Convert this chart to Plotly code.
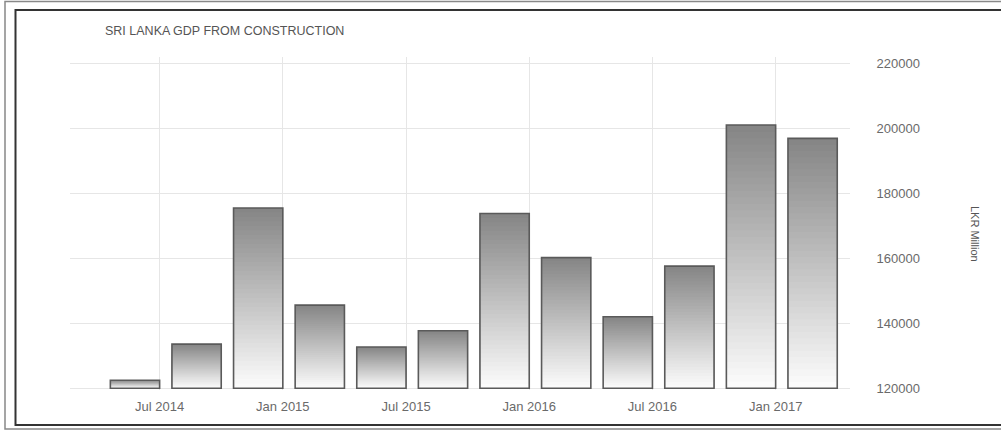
import plotly.graph_objects as go

# ---- data ----
quarters = ["2014 Q2", "2014 Q3", "2014 Q4", "2015 Q1", "2015 Q2", "2015 Q3",
            "2015 Q4", "2016 Q1", "2016 Q2", "2016 Q3", "2016 Q4", "2017 Q1"]
gdp_construction = [122500, 133600, 175500, 145600, 132700, 137700,
                    173800, 160200, 142000, 157600, 201000, 196900]
tick_labels = ["Jul 2014", "Jan 2015", "Jul 2015", "Jan 2016", "Jul 2016", "Jan 2017"]
y_ticks = [120000, 140000, 160000, 180000, 200000, 220000]
title_text = "SRI LANKA GDP FROM CONSTRUCTION"
unit_text = "LKR Million"

BASE = 120000
N_SEG = 40
positions = list(range(len(quarters)))
tick_positions = [positions[i] + 0.4 for i in range(0, len(quarters), 2)]

W, H = 1001, 432
L, R, T, B = 70, 151, 57, 42
plot_w = W - L - R
plot_h = H - T - B


def px(x):
    return (x - L) / plot_w


def py(y):
    return (H - B - y) / plot_h


fig = go.Figure()

top_c = (132, 132, 132)
bot_c = (253, 253, 253)
# overlapping layers: each layer starts at the base and reaches a fraction of the bar,
# so the visible band of each layer forms a smooth vertical gradient without gaps
for k in range(N_SEG):
    frac = 1 - k / N_SEG
    t = frac - 0.5 / N_SEG
    c = tuple(int(round(bot_c[i] + (top_c[i] - bot_c[i]) * t)) for i in range(3))
    fig.add_trace(go.Bar(
        x=positions, y=[(v - BASE) * frac for v in gdp_construction], base=BASE, width=0.8,
        marker=dict(color="rgb(%d,%d,%d)" % c, line=dict(width=0)),
        showlegend=False, hoverinfo="skip"))

fig.add_trace(go.Bar(
    x=positions, y=[v - BASE for v in gdp_construction], base=BASE, width=0.8,
    marker=dict(color="rgba(0,0,0,0)", line=dict(color="#5a5a5a", width=1.6)),
    customdata=gdp_construction, hovertemplate="%{customdata}<extra></extra>",
    showlegend=False))

fig.update_layout(
    width=W, height=H,
    margin=dict(l=L, r=R, t=T, b=B),
    barmode="overlay",
    paper_bgcolor="white", plot_bgcolor="white",
    font=dict(family="Liberation Sans, Arial, sans-serif", color="#666666"),
    xaxis=dict(
        range=[-1.055, 11.607],
        tickvals=tick_positions, ticktext=tick_labels,
        showgrid=True, gridcolor="#e6e6e6", gridwidth=1,
        zeroline=False, showline=False,
        ticks="outside", ticklen=4, tickcolor="rgba(0,0,0,0)",
        tickfont=dict(size=13, color="#6a6a6a"),
    ),
    yaxis=dict(
        range=[119480, 221940], side="right",
        tickvals=y_ticks, ticktext=[str(v) for v in y_ticks],
        showgrid=True, gridcolor="#e6e6e6", gridwidth=1,
        zeroline=False, showline=False,
        ticks="outside", ticklen=23, tickcolor="rgba(0,0,0,0)",
        tickfont=dict(size=13, color="#6a6a6a"),
    ),
    annotations=[
        dict(text=title_text, xref="paper", yref="paper", x=px(103), y=py(31),
             xanchor="left", yanchor="middle", showarrow=False,
             font=dict(size=12.5, color="#555555")),
        dict(text=unit_text, xref="paper", yref="paper", x=px(975), y=py(234),
             xanchor="center", yanchor="middle", showarrow=False, textangle=90,
             font=dict(size=11, color="#555555")),
    ],
    shapes=[
        dict(type="rect", xref="paper", yref="paper", x0=px(5), y0=py(429),
             x1=px(1012), y1=py(1.5), line=dict(color="#888888", width=1.5),
             layer="above"),
        dict(type="rect", xref="paper", yref="paper", x0=px(15.5), y0=py(425),
             x1=px(1012), y1=py(10), line=dict(color="#333333", width=2),
             layer="above"),
    ],
)

fig.write_html("out.html")
